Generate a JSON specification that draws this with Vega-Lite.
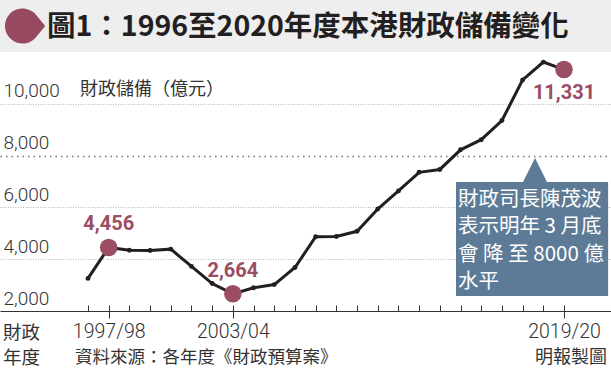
{
  "$schema": "https://vega.github.io/schema/vega-lite/v6.json",
  "width": 611,
  "height": 311,
  "autosize": "none",
  "padding": {"left": 0, "top": 0, "right": 0, "bottom": 58},
  "background": "#ffffff",
  "config": {"view": {"stroke": null}},
  "data": {
    "values": [
      {"year": 1996, "label": "1996/97", "value": 3260},
      {"year": 1997, "label": "1997/98", "value": 4456},
      {"year": 1998, "label": "1998/99", "value": 4350},
      {"year": 1999, "label": "1999/00", "value": 4340},
      {"year": 2000, "label": "2000/01", "value": 4390},
      {"year": 2001, "label": "2001/02", "value": 3724},
      {"year": 2002, "label": "2002/03", "value": 3060},
      {"year": 2003, "label": "2003/04", "value": 2664},
      {"year": 2004, "label": "2004/05", "value": 2900},
      {"year": 2005, "label": "2005/06", "value": 3020},
      {"year": 2006, "label": "2006/07", "value": 3680},
      {"year": 2007, "label": "2007/08", "value": 4870},
      {"year": 2008, "label": "2008/09", "value": 4880},
      {"year": 2009, "label": "2009/10", "value": 5080},
      {"year": 2010, "label": "2010/11", "value": 5940},
      {"year": 2011, "label": "2011/12", "value": 6640},
      {"year": 2012, "label": "2012/13", "value": 7360},
      {"year": 2013, "label": "2013/14", "value": 7470},
      {"year": 2014, "label": "2014/15", "value": 8230},
      {"year": 2015, "label": "2015/16", "value": 8620},
      {"year": 2016, "label": "2016/17", "value": 9360},
      {"year": 2017, "label": "2017/18", "value": 10930},
      {"year": 2018, "label": "2018/19", "value": 11620},
      {"year": 2019, "label": "2019/20", "value": 11331}
    ]
  },
  "resolve": {"axis": {"x": "independent", "y": "independent"}},
  "layer": [
    {
      "data": {"values": [{}]},
      "mark": {"type": "rect", "color": "#eeeeef"},
      "encoding": {
        "x": {"datum": 1991.748, "type": "quantitative", "axis": null, "scale": {"domain": [1991.748, 2021.27], "nice": false, "zero": false}},
        "x2": {"datum": 2021.27},
        "y": {"datum": 12010, "type": "quantitative", "axis": null, "scale": {"domain": [2000, 14019], "nice": false, "zero": false}},
        "y2": {"datum": 14019}
      }
    },
    {
      "data": {"values": [{}]},
      "mark": {"type": "point", "filled": true, "opacity": 1, "color": "#96495f", "size": 1225, "shape": "M0.769,-0.639 A1,1 0 1,0 0.769,0.639 L1.3,0 Z"},
      "encoding": {
        "x": {"datum": 1992.835, "type": "quantitative", "axis": null, "scale": {"domain": [1991.748, 2021.27], "nice": false, "zero": false}},
        "y": {"datum": 13014, "type": "quantitative", "axis": null, "scale": {"domain": [2000, 14019], "nice": false, "zero": false}}
      }
    },
    {
      "data": {"values": [{}]},
      "mark": {"type": "text", "text": "圖1：1996至2020年度本港財政儲備變化", "align": "left", "baseline": "middle", "font": "Noto Sans CJK TC", "fontWeight": "bold", "fontSize": 28.5, "color": "#231f20"},
      "encoding": {
        "x": {"datum": 1994.019, "type": "quantitative", "axis": null, "scale": {"domain": [1991.748, 2021.27], "nice": false, "zero": false}},
        "y": {"datum": 12976, "type": "quantitative", "axis": null, "scale": {"domain": [2000, 14019], "nice": false, "zero": false}}
      }
    },
    {
      "data": {"values": [{}]},
      "mark": {"type": "rect", "color": "#5d7b96"},
      "encoding": {
        "x": {"datum": 2013.78, "type": "quantitative", "axis": null, "scale": {"domain": [1991.748, 2021.27], "nice": false, "zero": false}},
        "x2": {"datum": 2021.13},
        "y": {"datum": 2580, "type": "quantitative", "axis": null, "scale": {"domain": [2000, 14019], "nice": false, "zero": false}},
        "y2": {"datum": 6985}
      }
    },
    {
      "data": {"values": [{}]},
      "mark": {"type": "point", "filled": true, "opacity": 1, "color": "#5d7b96", "size": 625, "shape": "M-1,1L0,-1L1,1Z"},
      "encoding": {
        "x": {"datum": 2017.598, "type": "quantitative", "axis": null, "scale": {"domain": [1991.748, 2021.27], "nice": false, "zero": false}},
        "y": {"datum": 7430, "type": "quantitative", "axis": null, "scale": {"domain": [2000, 14019], "nice": false, "zero": false}}
      }
    },
    {
      "data": {"values": [{}]},
      "mark": {"type": "text", "text": ["財政司長陳茂波", "表示明年 3 月底", "會 降 至 8000 億", "水平"], "align": "left", "baseline": "middle", "lineHeight": 27.5, "font": "Noto Sans CJK TC", "fontSize": 20.5, "color": "#ffffff"},
      "encoding": {
        "x": {"datum": 2013.878, "type": "quantitative", "axis": null, "scale": {"domain": [1991.748, 2021.27], "nice": false, "zero": false}},
        "y": {"datum": 6290, "type": "quantitative", "axis": null, "scale": {"domain": [2000, 14019], "nice": false, "zero": false}}
      }
    },
    {
      "mark": {"type": "line", "color": "#231f20", "strokeWidth": 3},
      "encoding": {
        "x": {"field": "year", "type": "quantitative", "scale": {"domain": [1991.748, 2021.27], "nice": false, "zero": false},
          "axis": {"orient": "bottom", "values": [1996, 1997, 1998, 1999, 2000, 2001, 2002, 2003, 2004, 2005, 2006, 2007, 2008, 2009, 2010, 2011, 2012, 2013, 2014, 2015, 2016, 2017, 2018, 2019],
            "ticks": true, "tickSize": -6, "tickColor": "#333333", "tickWidth": 1, "labels": false, "domain": true, "domainColor": "#333333", "domainWidth": 1, "grid": false, "title": null}},
        "y": {"field": "value", "type": "quantitative", "scale": {"domain": [2000, 14019], "nice": false, "zero": false},
          "axis": {"orient": "left", "values": [2000, 4000, 6000, 8000, 10000], "format": ",d", "grid": true,
            "gridColor": {"condition": {"test": "datum.value === 8000", "value": "#777777"}, "value": "#b5b5b5"},
            "gridDash": {"condition": {"test": "datum.value === 8000", "value": [1.5, 4]}, "value": [1, 1.5]},
            "gridWidth": {"condition": {"test": "datum.value === 8000", "value": 1.6}, "value": 1},
            "domain": false, "ticks": false, "labelAlign": "left", "labelBaseline": "alphabetic", "labelPadding": -3, "labelOffset": -7,
            "labelFont": "Roboto", "labelFontWeight": 300, "labelFontSize": 19, "labelColor": "#333333", "title": null}}
      }
    },
    {
      "mark": {"type": "point", "filled": true, "opacity": 1, "color": "#231f20", "size": 24},
      "encoding": {
        "x": {"field": "year", "type": "quantitative", "axis": null, "scale": {"domain": [1991.748, 2021.27], "nice": false, "zero": false}},
        "y": {"field": "value", "type": "quantitative", "axis": null, "scale": {"domain": [2000, 14019], "nice": false, "zero": false}}
      }
    },
    {
      "transform": [{"filter": {"field": "year", "oneOf": [1997, 2003, 2019]}}],
      "mark": {"type": "circle", "opacity": 1, "color": "#9a4d63", "size": 310},
      "encoding": {
        "x": {"field": "year", "type": "quantitative", "scale": {"domain": [1991.748, 2021.27], "nice": false, "zero": false},
          "axis": {"orient": "bottom", "values": [1997, 2003, 2019], "labelExpr": "datum.value + '/' + substring(toString(datum.value + 1), 2)",
            "ticks": true, "tickSize": 7, "tickColor": "#333333", "tickWidth": 1, "domain": false, "grid": false, "labels": true,
            "labelFont": "Roboto", "labelFontWeight": 300, "labelFontSize": 19.5, "labelColor": "#333333", "labelPadding": 4, "labelFlush": false, "title": null}},
        "y": {"field": "value", "type": "quantitative", "axis": null, "scale": {"domain": [2000, 14019], "nice": false, "zero": false}}
      }
    },
    {
      "transform": [{"filter": {"field": "year", "oneOf": [1997, 2003]}}],
      "mark": {"type": "text", "align": "center", "baseline": "middle", "dy": -23, "font": "Roboto", "fontWeight": "bold", "fontSize": 20, "color": "#9a4d63"},
      "encoding": {
        "x": {"field": "year", "type": "quantitative", "axis": null, "scale": {"domain": [1991.748, 2021.27], "nice": false, "zero": false}},
        "y": {"field": "value", "type": "quantitative", "axis": null, "scale": {"domain": [2000, 14019], "nice": false, "zero": false}},
        "text": {"field": "value", "type": "quantitative", "format": ",d"}
      }
    },
    {
      "transform": [{"filter": {"field": "year", "oneOf": [2019]}}],
      "mark": {"type": "text", "align": "center", "baseline": "middle", "dy": 23, "font": "Roboto", "fontWeight": "bold", "fontSize": 20, "color": "#9a4d63"},
      "encoding": {
        "x": {"field": "year", "type": "quantitative", "axis": null, "scale": {"domain": [1991.748, 2021.27], "nice": false, "zero": false}},
        "y": {"field": "value", "type": "quantitative", "axis": null, "scale": {"domain": [2000, 14019], "nice": false, "zero": false}},
        "text": {"field": "value", "type": "quantitative", "format": ",d"}
      }
    },
    {
      "data": {"values": [{}]},
      "mark": {"type": "text", "text": "財政儲備（億元）", "align": "left", "baseline": "middle", "font": "Noto Sans CJK TC", "fontSize": 18, "color": "#333333"},
      "encoding": {
        "x": {"datum": 1995.613, "type": "quantitative", "axis": null, "scale": {"domain": [1991.748, 2021.27], "nice": false, "zero": false}},
        "y": {"datum": 10541, "type": "quantitative", "axis": null, "scale": {"domain": [2000, 14019], "nice": false, "zero": false}}
      }
    },
    {
      "data": {"values": [{}]},
      "mark": {"type": "text", "text": ["財政", "年度"], "align": "left", "baseline": "middle", "lineHeight": 25, "font": "Noto Sans CJK TC", "fontSize": 18.5, "color": "#333333"},
      "encoding": {
        "x": {"datum": 1991.893, "type": "quantitative", "axis": null, "scale": {"domain": [1991.748, 2021.27], "nice": false, "zero": false}},
        "y": {"datum": 1150, "type": "quantitative", "axis": null, "scale": {"domain": [2000, 14019], "nice": false, "zero": false}}
      }
    },
    {
      "data": {"values": [{}]},
      "mark": {"type": "text", "text": "資料來源：各年度《財政預算案》", "align": "left", "baseline": "middle", "font": "Noto Sans CJK TC", "fontSize": 17.5, "color": "#333333"},
      "encoding": {
        "x": {"datum": 1995.372, "type": "quantitative", "axis": null, "scale": {"domain": [1991.748, 2021.27], "nice": false, "zero": false}},
        "y": {"datum": 200, "type": "quantitative", "axis": null, "scale": {"domain": [2000, 14019], "nice": false, "zero": false}}
      }
    },
    {
      "data": {"values": [{}]},
      "mark": {"type": "text", "text": "明報製圖", "align": "right", "baseline": "middle", "font": "Noto Sans CJK TC", "fontSize": 18, "color": "#333333"},
      "encoding": {
        "x": {"datum": 2021.077, "type": "quantitative", "axis": null, "scale": {"domain": [1991.748, 2021.27], "nice": false, "zero": false}},
        "y": {"datum": 200, "type": "quantitative", "axis": null, "scale": {"domain": [2000, 14019], "nice": false, "zero": false}}
      }
    }
  ]
}
